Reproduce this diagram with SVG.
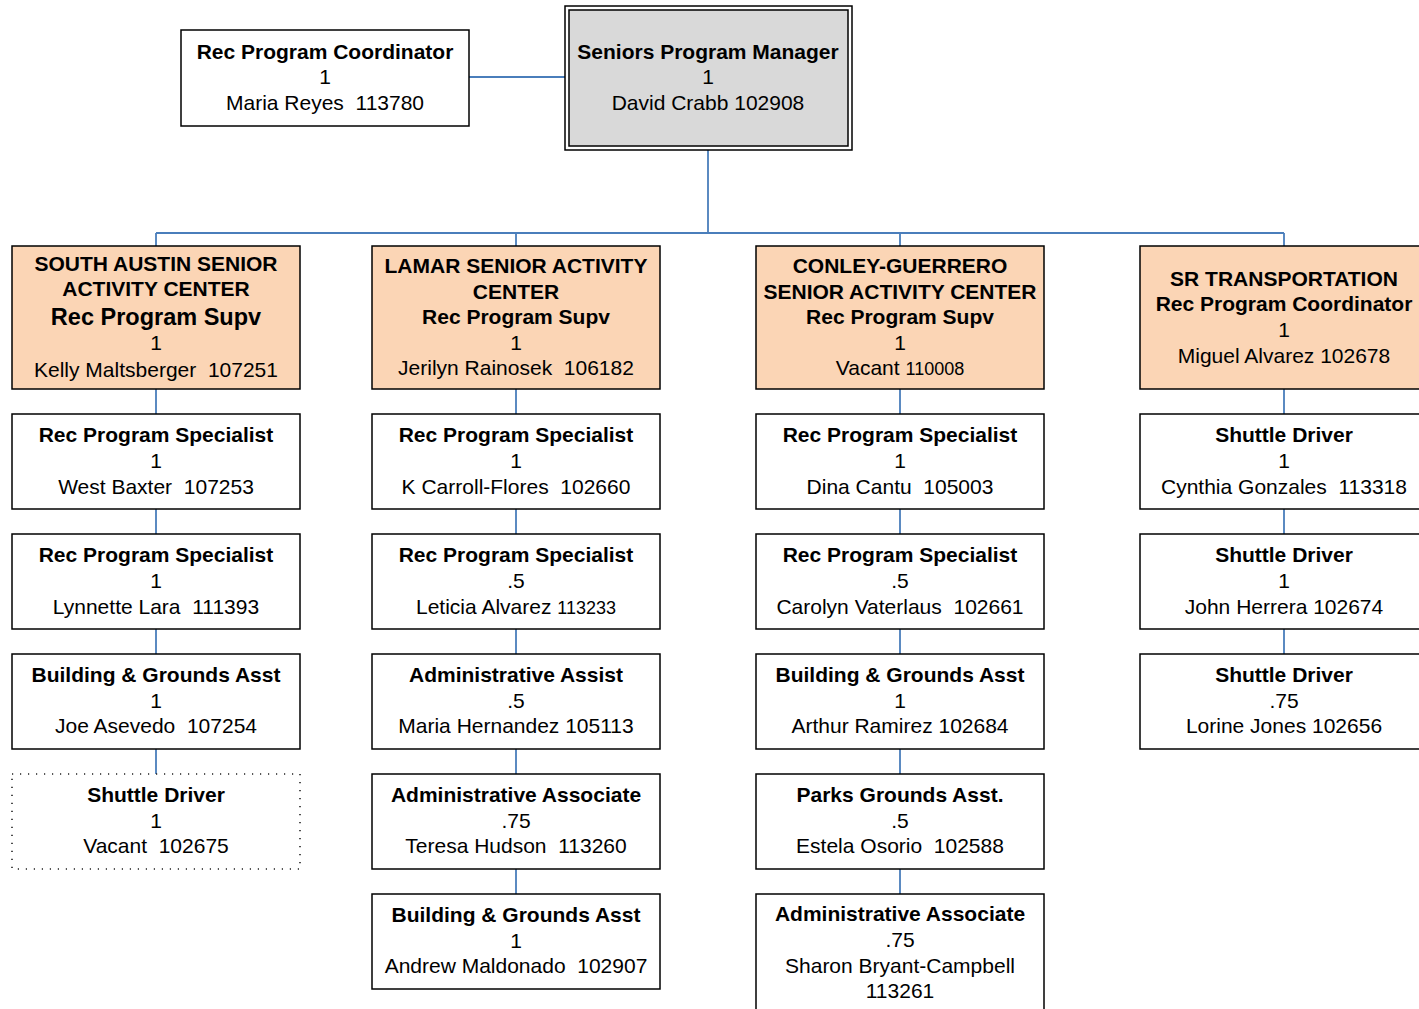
<svg xmlns="http://www.w3.org/2000/svg" width="1419" height="1009" viewBox="0 0 1419 1009">
<style>
text{font-family:"Liberation Sans",Arial,sans-serif;font-size:21px;fill:#000;text-anchor:middle}
.b{font-weight:bold}
.big{font-size:23.5px}
.sm{font-size:18px}
.box{fill:#fff;stroke:#000;stroke-width:1.5}
.hdr{fill:#fbd5b5;stroke:#000;stroke-width:1.5}
.dot{fill:#fff;stroke:#222;stroke-width:1.6;stroke-dasharray:1.2 6.8}
.c{stroke:#4a7ebb;stroke-width:1.8;fill:none}
</style>
<rect width="1419" height="1009" fill="#fff"/>
<g id="connectors">
<path class="c" d="M469 77H565"/>
<path class="c" d="M708 150V233M156 233H1284M156 233V246M516 233V246M900 233V246M1284 233V246"/>
<path class="c" d="M156 389V414M156 509V534M156 629V654M156 749V774"/>
<path class="c" d="M516 389V414M516 509V534M516 629V654M516 749V774M516 869V894"/>
<path class="c" d="M900 389V414M900 509V534M900 629V654M900 749V774M900 869V894"/>
<path class="c" d="M1284 389V414M1284 509V534M1284 629V654"/>
</g>
<g id="coord">
<rect class="box" x="181" y="30" width="288" height="96"/>
<text class="b" x="325" y="59">Rec Program Coordinator</text>
<text x="325" y="84">1</text>
<text x="325" y="110" xml:space="preserve">Maria Reyes  113780</text>
</g>
<g id="manager">
<rect x="565" y="6" width="287" height="144" fill="#fff" stroke="#000" stroke-width="1.5"/>
<rect x="569" y="10" width="279" height="136" fill="#d9d9d9" stroke="#000" stroke-width="1.5"/>
<text class="b" x="708" y="59">Seniors Program Manager</text>
<text x="708" y="84">1</text>
<text x="708" y="110">David Crabb 102908</text>
</g>
<g id="hdr1">
<rect class="hdr" x="12" y="246" width="288" height="143"/>
<text class="b" x="156" y="271">SOUTH AUSTIN SENIOR</text>
<text class="b" x="156" y="296">ACTIVITY CENTER</text>
<text class="b big" x="156" y="325">Rec Program Supv</text>
<text x="156" y="350">1</text>
<text x="156" y="377" xml:space="preserve">Kelly Maltsberger  107251</text>
</g>
<g id="hdr2">
<rect class="hdr" x="372" y="246" width="288" height="143"/>
<text class="b" x="516" y="273">LAMAR SENIOR ACTIVITY</text>
<text class="b" x="516" y="299">CENTER</text>
<text class="b" x="516" y="324">Rec Program Supv</text>
<text x="516" y="350">1</text>
<text x="516" y="375" xml:space="preserve">Jerilyn Rainosek  106182</text>
</g>
<g id="hdr3">
<rect class="hdr" x="756" y="246" width="288" height="143"/>
<text class="b" x="900" y="273">CONLEY-GUERRERO</text>
<text class="b" x="900" y="299">SENIOR ACTIVITY CENTER</text>
<text class="b" x="900" y="324">Rec Program Supv</text>
<text x="900" y="350">1</text>
<text x="900" y="375">Vacant <tspan class="sm">110008</tspan></text>
</g>
<g id="hdr4">
<rect class="hdr" x="1140" y="246" width="288" height="143"/>
<text class="b" x="1284" y="286">SR TRANSPORTATION</text>
<text class="b" x="1284" y="311">Rec Program Coordinator</text>
<text x="1284" y="337">1</text>
<text x="1284" y="363">Miguel Alvarez 102678</text>
</g>
<g id="c1r1">
<rect class="box" x="12" y="414" width="288" height="95"/>
<text class="b" x="156" y="442">Rec Program Specialist</text>
<text x="156" y="468">1</text>
<text x="156" y="494" xml:space="preserve">West Baxter  107253</text>
</g>
<g id="c1r2">
<rect class="box" x="12" y="534" width="288" height="95"/>
<text class="b" x="156" y="562">Rec Program Specialist</text>
<text x="156" y="588">1</text>
<text x="156" y="614" xml:space="preserve">Lynnette Lara  111393</text>
</g>
<g id="c1r3">
<rect class="box" x="12" y="654" width="288" height="95"/>
<text class="b" x="156" y="682">Building &amp; Grounds Asst</text>
<text x="156" y="708">1</text>
<text x="156" y="733" xml:space="preserve">Joe Asevedo  107254</text>
</g>
<g id="c1r4">
<rect class="dot" x="12" y="774" width="288" height="95"/>
<text class="b" x="156" y="802">Shuttle Driver</text>
<text x="156" y="828">1</text>
<text x="156" y="853" xml:space="preserve">Vacant  102675</text>
</g>
<g id="c2r1">
<rect class="box" x="372" y="414" width="288" height="95"/>
<text class="b" x="516" y="442">Rec Program Specialist</text>
<text x="516" y="468">1</text>
<text x="516" y="494" xml:space="preserve">K Carroll-Flores  102660</text>
</g>
<g id="c2r2">
<rect class="box" x="372" y="534" width="288" height="95"/>
<text class="b" x="516" y="562">Rec Program Specialist</text>
<text x="516" y="588">.5</text>
<text x="516" y="614">Leticia Alvarez <tspan class="sm">113233</tspan></text>
</g>
<g id="c2r3">
<rect class="box" x="372" y="654" width="288" height="95"/>
<text class="b" x="516" y="682">Administrative Assist</text>
<text x="516" y="708">.5</text>
<text x="516" y="733">Maria Hernandez 105113</text>
</g>
<g id="c2r4">
<rect class="box" x="372" y="774" width="288" height="95"/>
<text class="b" x="516" y="802">Administrative Associate</text>
<text x="516" y="828">.75</text>
<text x="516" y="853" xml:space="preserve">Teresa Hudson  113260</text>
</g>
<g id="c2r5">
<rect class="box" x="372" y="894" width="288" height="95"/>
<text class="b" x="516" y="922">Building &amp; Grounds Asst</text>
<text x="516" y="948">1</text>
<text x="516" y="973" xml:space="preserve">Andrew Maldonado  102907</text>
</g>
<g id="c3r1">
<rect class="box" x="756" y="414" width="288" height="95"/>
<text class="b" x="900" y="442">Rec Program Specialist</text>
<text x="900" y="468">1</text>
<text x="900" y="494" xml:space="preserve">Dina Cantu  105003</text>
</g>
<g id="c3r2">
<rect class="box" x="756" y="534" width="288" height="95"/>
<text class="b" x="900" y="562">Rec Program Specialist</text>
<text x="900" y="588">.5</text>
<text x="900" y="614" xml:space="preserve">Carolyn Vaterlaus  102661</text>
</g>
<g id="c3r3">
<rect class="box" x="756" y="654" width="288" height="95"/>
<text class="b" x="900" y="682">Building &amp; Grounds Asst</text>
<text x="900" y="708">1</text>
<text x="900" y="733">Arthur Ramirez 102684</text>
</g>
<g id="c3r4">
<rect class="box" x="756" y="774" width="288" height="95"/>
<text class="b" x="900" y="802">Parks Grounds Asst.</text>
<text x="900" y="828">.5</text>
<text x="900" y="853" xml:space="preserve">Estela Osorio  102588</text>
</g>
<g id="c3r5">
<rect class="box" x="756" y="894" width="288" height="130"/>
<text class="b" x="900" y="921">Administrative Associate</text>
<text x="900" y="947">.75</text>
<text x="900" y="973">Sharon Bryant-Campbell</text>
<text x="900" y="998">113261</text>
</g>
<g id="c4r1">
<rect class="box" x="1140" y="414" width="288" height="95"/>
<text class="b" x="1284" y="442">Shuttle Driver</text>
<text x="1284" y="468">1</text>
<text x="1284" y="494" xml:space="preserve">Cynthia Gonzales  113318</text>
</g>
<g id="c4r2">
<rect class="box" x="1140" y="534" width="288" height="95"/>
<text class="b" x="1284" y="562">Shuttle Driver</text>
<text x="1284" y="588">1</text>
<text x="1284" y="614">John Herrera 102674</text>
</g>
<g id="c4r3">
<rect class="box" x="1140" y="654" width="288" height="95"/>
<text class="b" x="1284" y="682">Shuttle Driver</text>
<text x="1284" y="708">.75</text>
<text x="1284" y="733">Lorine Jones 102656</text>
</g>
</svg>
